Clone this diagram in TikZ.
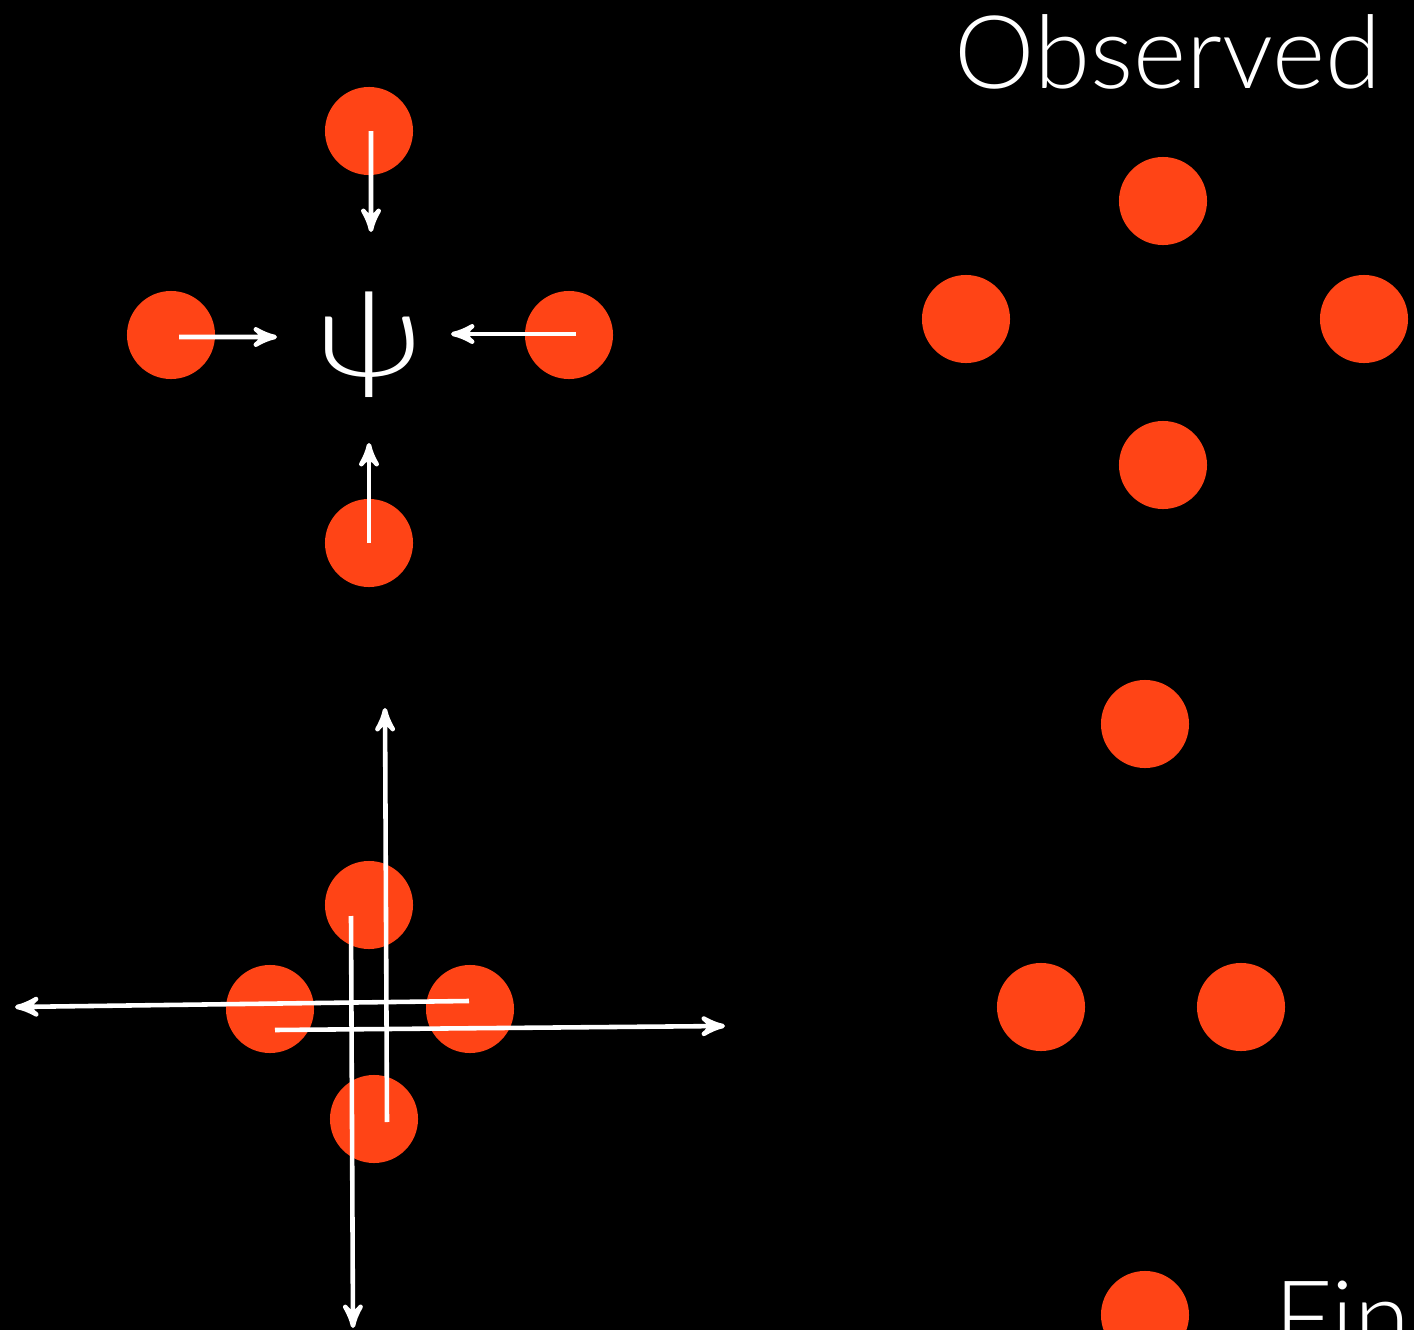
\documentclass[tikz,border=0pt]{standalone}
\usepackage{fontspec}
\setmainfont{Lato}[UprightFont=* Light]
\usetikzlibrary{arrows}
\definecolor{dotred}{HTML}{FF4416}

\begin{document}
\begin{tikzpicture}[x=0.01cm,y=-0.01cm,
    dot/.style={circle,fill=dotred,inner sep=0pt,minimum size=0.88cm},
    arr/.style={-stealth',white,line width=1.3pt},
    lbl/.style={text=white,inner sep=0pt}]
  \useasboundingbox (0,0) rectangle (1414,1330);
  \fill[black](0,0)rectangle(1414,1330);
  \clip(0,0)rectangle(1414,1330);
  % attracting points
  \node[dot](t)at(369,131){};
  \node[dot](l)at(171,335){};
  \node[dot](r)at(569,335){};
  \node[dot](b)at(369,543){};
  \node[lbl,xscale=1.25,font=\fontsize{34}{34}\selectfont](psi)at(369,345){ψ};
  \coordinate(tend)at(371,232);
  \coordinate(lend)at(277,337);
  \coordinate(rend)at(451,334);
  \coordinate(bend)at(369,443);
  \draw[arr]([xshift=0.02cm]t.center)--(tend);
  \draw[arr]([xshift=0.08cm,yshift=-0.02cm]l.center)--(lend);
  \draw[arr]([xshift=0.07cm,yshift=0.01cm]r.center)--(rend);
  \draw[arr](b.center)--(bend);
  % spreading points
  \node[dot](st)at(369,905){};
  \node[dot](sl)at(270,1009){};
  \node[dot](sr)at(470,1009){};
  \node[dot](sb)at(374,1119){};
  \coordinate(sbs)at(387,1122);
  \coordinate(up)at(385,708);
  \coordinate(sts)at(351,916);
  \coordinate(down)at(353,1328);
  \coordinate(srs)at(469,1001);
  \coordinate(left)at(15,1007);
  \coordinate(sls)at(275,1030);
  \coordinate(right)at(725,1026);
  \draw[arr](sbs)--(up);
  \draw[arr](sts)--(down);
  \draw[arr](srs)--(left);
  \draw[arr](sls)--(right);
  % observed
  \node[lbl,anchor=base west,font=\fontsize{28.9}{29}\selectfont](obs)at(954,88){Observed};
  \node[dot](o1)at(1163,201){};
  \node[dot](o2)at(966,319){};
  \node[dot](o3)at(1364,319){};
  \node[dot](o4)at(1163,465){};
  \node[dot](o5)at(1145,724){};
  \node[dot](o6)at(1041,1007){};
  \node[dot](o7)at(1241,1007){};
  \node[dot](o8)at(1145,1315){};
  \node[lbl,anchor=west,font=\fontsize{28.9}{29}\selectfont](fin)at(1274,1318){Fine};
\end{tikzpicture}
\end{document}
